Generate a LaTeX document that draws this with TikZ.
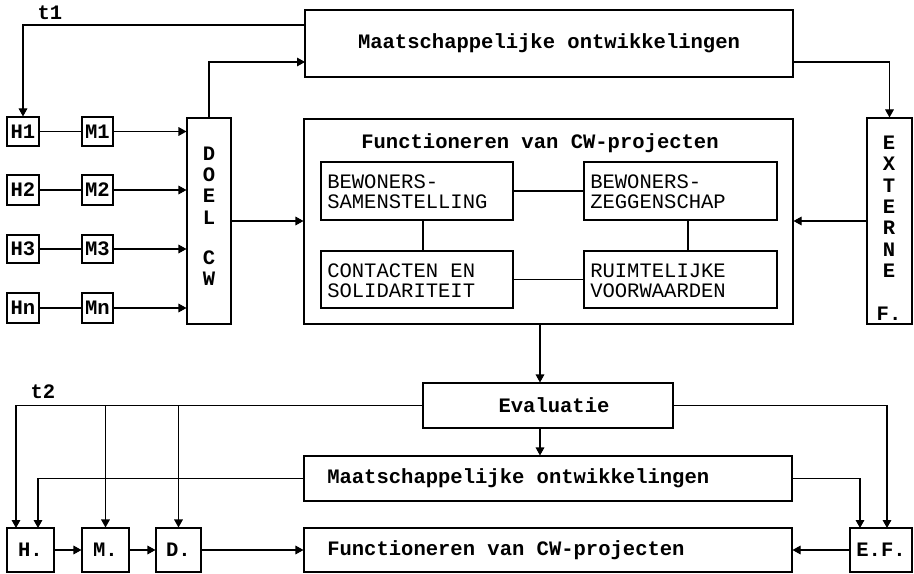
\documentclass[tikz,border=0pt]{standalone}
\usepackage{fontspec}
\setmonofont{Liberation Mono}
\usetikzlibrary{arrows.meta}
\newcommand{\mybox}[7][]{\node[boxst,#1,minimum width={(#5-#3)*0.75pt},minimum height={(#6-#4)*0.75pt}] (#2) at ({(#3+#5)/2},{(#4+#6)/2}) {#7};}
\begin{document}
\begin{tikzpicture}[x=0.75pt,y=-0.75pt,
  every node/.style={font=\fontsize{15.4}{16}\selectfont\ttfamily\bfseries},
  boxst/.style={draw,line width=0.8pt,inner sep=0pt},
  txt/.style={inner sep=0pt},
  inner/.style={inner sep=0pt,anchor=west,align=left,font=\fontsize{15.4}{15}\selectfont\ttfamily},
  ln/.style={line width=0.8pt},
  arr/.style={line width=0.8pt,-{Triangle[length=6pt,width=6.5pt]}}]
\useasboundingbox (0,0) rectangle (914,574);
\fill[white] (0,0) rectangle (914,574);
% top part
\mybox{mo1}{305}{10}{793}{77}{Maatschappelijke ontwikkelingen}
\mybox{H1}{7}{117}{39}{146}{H1}
\mybox{M1}{82}{117}{113}{146}{M1}
\mybox{H2}{7}{175}{39}{205}{H2}
\mybox{M2}{82}{175}{113}{205}{M2}
\mybox{H3}{7}{235}{39}{263}{H3}
\mybox{M3}{82}{235}{113}{263}{M3}
\mybox{Hn}{7}{293}{39}{323}{Hn}
\mybox{Mn}{82}{293}{113}{323}{Mn}
\mybox{DOEL}{187}{118}{231}{324}{}
\node[txt,align=center] (DOELt) at (209,216) {D\\O\\E\\L\\[14pt]C\\W};
\mybox{fw}{304}{119}{793}{324}{}
\node[txt] (fwt) at (540,143) {Functioneren van CW-projecten};
\mybox{BS}{321}{162}{513}{220}{}
\mybox{BZ}{584}{162}{777}{220}{}
\mybox{CS}{321}{251}{513}{308}{}
\mybox{RV}{584}{251}{777}{308}{}
\node[inner] (BSt) at (327,192) {BEWONERS-\\SAMENSTELLING};
\node[inner] (BZt) at (590,192) {BEWONERS-\\ZEGGENSCHAP};
\node[inner] (CSt) at (327,281) {CONTACTEN EN\\SOLIDARITEIT};
\node[inner] (RVt) at (590,281) {RUIMTELIJKE\\VOORWAARDEN};
\mybox{EXT}{867}{118}{912}{324}{}
\node[txt,align=center] (EXTt) at (889,228) {E\\X\\T\\E\\R\\N\\E\\[16pt]F.};
\node[txt] (t1) at (50,13) {t1};
% bottom part
\mybox{ev}{423}{383}{673}{428}{}
\node[txt] (evt) at (554,405) {Evaluatie};
\mybox{mo2}{304}{456}{792}{501}{}
\node[txt,anchor=west] (mo2t) at (327,478) {Maatschappelijke ontwikkelingen};
\mybox{Hd}{7}{528}{54}{572}{H.}
\mybox{Md}{82}{528}{129}{572}{M.}
\mybox{Dd}{156}{528}{201}{572}{D.}
\mybox{fw2}{304}{528}{792}{572}{}
\node[txt,anchor=west] (fw2t) at (327,550) {Functioneren van CW-projecten};
\mybox{EF}{850}{528}{912}{572}{E.F.}
\node[txt] (t2) at (43,392) {t2};
% coordinates
\coordinate (t1s) at (305,25);
\coordinate (mo1a) at (305,62);
\coordinate (mo1b) at (793,62);
\coordinate (c1) at (540,324);
\coordinate (c2) at (540,428);
\coordinate (h1) at (16,528);
\coordinate (h2) at (38,528);
\coordinate (e1) at (860,528);
\coordinate (e2) at (887,528);
\coordinate (v1) at (423,0);
\coordinate (v2) at (688,0);
% top connectors
\draw[arr] (t1s) -| (H1.north);
\foreach \a/\b in {H1/M1,H2/M2,H3/M3,Hn/Mn}{
  \draw[ln] (\a.east) -- (\b.west);
  \draw[arr] (\b.east) -- (\b.east -| DOEL.west);
}
\draw[arr] (DOEL.north) |- (mo1a);
\draw[arr] (DOEL.east) -- (DOEL.east -| fw.west);
\draw[arr] (mo1b) -| (EXT.north);
\draw[arr] (EXT.west) -- (EXT.west -| fw.east);
\draw[ln] (BS.east) -- (BZ.west);
\draw[ln] (BS.south -| v1) -- (CS.north -| v1);
\draw[ln] (BZ.south -| v2) -- (RV.north -| v2);
\draw[ln] (CS.east) -- (RV.west);
% middle
\draw[arr] (c1) -- (c1 |- ev.north);
\draw[arr] (c2) -- (c2 |- mo2.north);
\draw[arr] (ev.west) -| (h1);
\draw[arr] (Md.north |- ev.west) -- (Md.north);
\draw[arr] (Dd.north |- ev.west) -- (Dd.north);
\draw[arr] (mo2.west) -| (h2);
\draw[arr] (mo2.east) -| (e1);
\draw[arr] (ev.east) -| (e2);
% bottom row
\draw[arr] (Hd.east) -- (Md.west);
\draw[arr] (Md.east) -- (Dd.west);
\draw[arr] (Dd.east) -- (fw2.west);
\draw[arr] (EF.west) -- (fw2.east);
\end{tikzpicture}
\end{document}
